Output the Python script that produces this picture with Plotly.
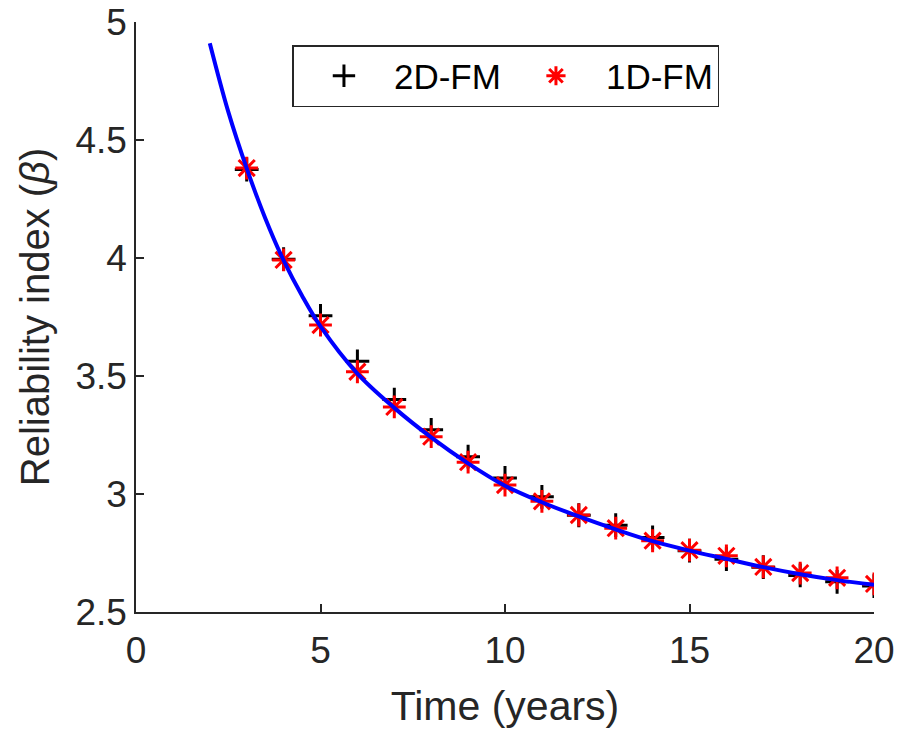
import plotly.graph_objects as go

# Data
years = list(range(3, 21))
beta_2d = [4.375, 3.995, 3.755, 3.562, 3.400, 3.272, 3.158, 3.068, 2.988, 2.910,
           2.868, 2.816, 2.760, 2.724, 2.690, 2.655, 2.628, 2.610]
beta_1d = [4.381, 3.992, 3.716, 3.518, 3.369, 3.243, 3.135, 3.038, 2.969, 2.911,
           2.855, 2.802, 2.762, 2.738, 2.691, 2.665, 2.645, 2.619]
curve_t = [2, 2.5, 3, 3.5, 4, 4.5, 5, 6, 7, 8, 9, 10, 11, 12, 13, 14, 15, 16, 17, 18, 19, 20]
curve_b = [4.91, 4.62, 4.38, 4.17, 3.99, 3.84, 3.71, 3.51, 3.365, 3.24, 3.13, 3.035,
           2.965, 2.905, 2.85, 2.80, 2.76, 2.725, 2.69, 2.66, 2.635, 2.615]

x_ticks = [0, 5, 10, 15, 20]
y_ticks = [2.5, 3, 3.5, 4, 4.5, 5]

axis_color = "#262626"
font_family = "Liberation Sans, Arial, sans-serif"

fig = go.Figure()
fig.add_trace(go.Scatter(
    x=years, y=beta_2d, mode="markers", name="2D-FM",
    marker=dict(symbol="cross-thin-open", size=17, color="black",
                line=dict(color="black", width=3)),
))
fig.add_trace(go.Scatter(
    x=years, y=beta_1d, mode="markers", name="1D-FM",
    marker=dict(symbol="asterisk-open", size=19, color="red",
                line=dict(color="red", width=3)),
))
fig.add_trace(go.Scatter(
    x=curve_t, y=curve_b, mode="lines", showlegend=False,
    line=dict(color="#0000ff", width=4, shape="spline"),
))

fig.update_layout(
    width=897, height=731,
    margin=dict(l=136, r=23, t=22, b=119, autoexpand=False),
    paper_bgcolor="white", plot_bgcolor="white",
    font=dict(family=font_family, color=axis_color, size=37),
    showlegend=True,
    legend=dict(
        orientation="h", x=0.212, y=0.961, xanchor="left", yanchor="top",
        bgcolor="white", bordercolor=axis_color, borderwidth=1.5,
        font=dict(size=35, color="black"), itemwidth=90,
        entrywidth=107,
    ),
    xaxis=dict(
        range=[0, 20], tickvals=x_ticks, ticktext=[str(v) for v in x_ticks],
        showline=True, linecolor=axis_color, linewidth=1.5,
        ticks="inside", ticklen=8, tickcolor=axis_color, tickwidth=1.5,
        showgrid=False, zeroline=False, mirror=False, automargin=False,
        tickfont=dict(size=37, color=axis_color), ticklabelstandoff=5,
        title=dict(text="Time (years)", font=dict(size=41, color=axis_color), standoff=21),
    ),
    yaxis=dict(
        range=[2.5, 5], tickvals=y_ticks, ticktext=["2.5", "3", "3.5", "4", "4.5", "5"],
        showline=True, linecolor=axis_color, linewidth=1.5,
        ticks="inside", ticklen=8, tickcolor=axis_color, tickwidth=1.5,
        showgrid=False, zeroline=False, mirror=False, automargin=False,
        tickfont=dict(size=37, color=axis_color),
        title=dict(text="Reliability index (<i>β</i>)", font=dict(size=40, color=axis_color), standoff=13),
    ),
)

fig.write_html("out.html")
